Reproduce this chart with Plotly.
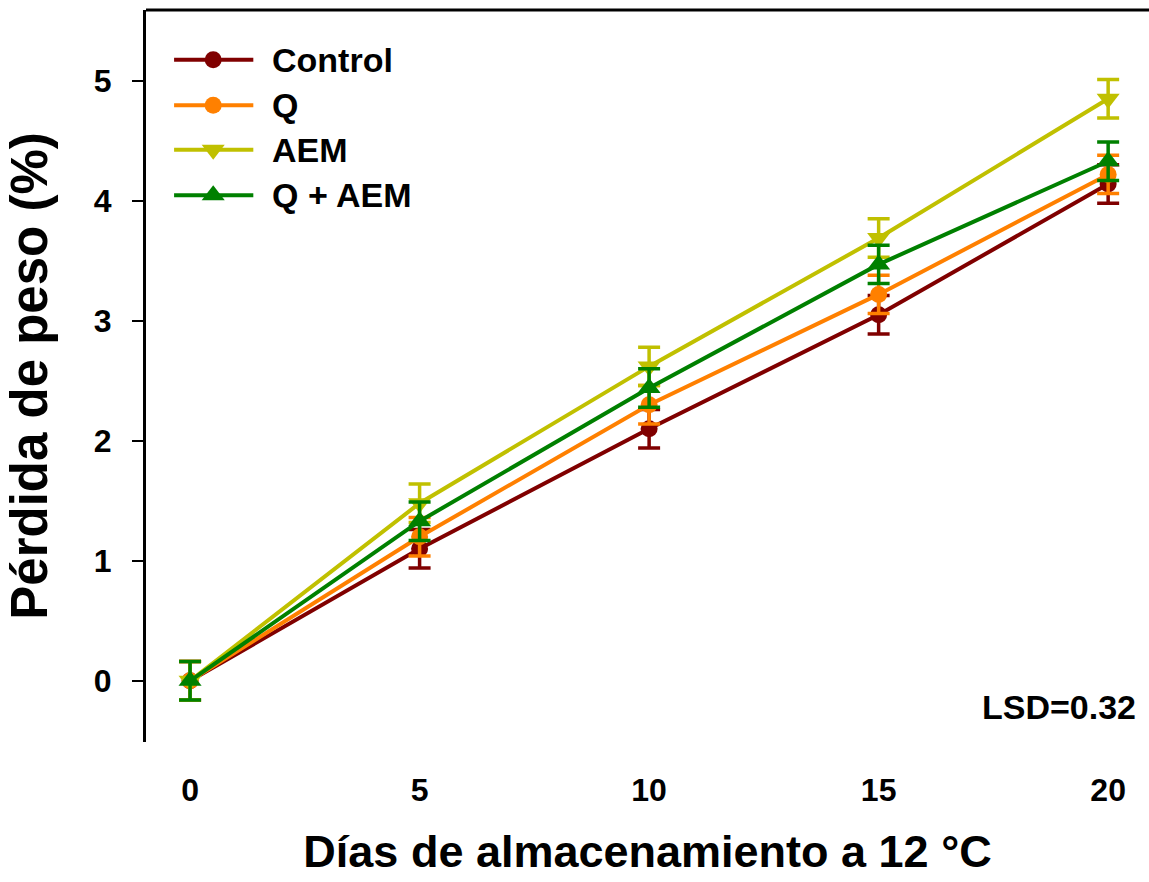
import plotly.graph_objects as go

# Storage days and weight loss (%) per treatment
days = [0, 5, 10, 15, 20]
control = [0.00, 1.10, 2.10, 3.05, 4.14]
q = [0.00, 1.20, 2.30, 3.22, 4.22]
aem = [0.00, 1.48, 2.62, 3.69, 4.85]
q_aem = [0.00, 1.33, 2.44, 3.47, 4.33]
err = [0.16, 0.16, 0.16, 0.16, 0.16]

series_names = ["Control", "Q", "AEM", "Q + AEM"]
series_values = [control, q, aem, q_aem]
colors = ["#800000", "#FF8000", "#C0C000", "#008000"]
symbols = ["circle", "circle", "triangle-down", "triangle-up"]
marker_sizes = [17, 17, 20, 20]

FONT = "Liberation Sans, Arial, sans-serif"

# Legend key geometry, in fractions of the plotting area (overlay axes 0..1)
KEY_LINE_X = [0.028, 0.107]
KEY_MARK_X = 0.067
KEY_TEXT_X = 0.124
KEY_ROWS = [0.932, 0.870, 0.809, 0.747]

fig = go.Figure()
for name, vals, col, sym, ms in zip(series_names, series_values, colors, symbols, marker_sizes):
    fig.add_trace(go.Scatter(
        x=days, y=vals, name=name, mode="lines+markers", showlegend=False,
        line=dict(color=col, width=4),
        marker=dict(symbol=sym, size=ms, color=col),
        error_y=dict(type="data", array=err, visible=True, color=col,
                     thickness=3.5, width=11),
    ))

# legend keys: long line sample with the marker in its middle
for name, col, sym, ms, row in zip(series_names, colors, symbols, marker_sizes, KEY_ROWS):
    fig.add_trace(go.Scatter(
        x=KEY_LINE_X, y=[row, row], xaxis="x2", yaxis="y2", mode="lines",
        showlegend=False, hoverinfo="skip", line=dict(color=col, width=4),
    ))
    fig.add_trace(go.Scatter(
        x=[KEY_MARK_X], y=[row], xaxis="x2", yaxis="y2", mode="markers",
        showlegend=False, hoverinfo="skip",
        marker=dict(symbol=sym, size=ms, color=col),
    ))
    fig.add_annotation(text=name, x=KEY_TEXT_X, y=row, xref="x2", yref="y2",
                       xanchor="left", yanchor="middle", showarrow=False,
                       font=dict(family=FONT, size=34, color="black", weight="bold"))

# frame line along the top of the plotting area
fig.add_shape(type="line", xref="paper", yref="paper", x0=0, x1=1, y0=1, y1=1,
              line=dict(color="black", width=3))

fig.add_annotation(text="LSD=0.32", x=20.64, y=-0.22, xref="x", yref="y",
                   xanchor="right", yanchor="middle", showarrow=False,
                   font=dict(family=FONT, size=34, color="black", weight="bold"))

fig.update_layout(
    width=1149, height=882,
    margin=dict(l=146, r=0, t=10, b=140),
    paper_bgcolor="white", plot_bgcolor="white",
    font=dict(family=FONT, color="black"),
    showlegend=False,
    xaxis=dict(range=[-0.96, 20.89], tickvals=days, ticks="", showline=False,
               showgrid=False, zeroline=False, ticklabelstandoff=26,
               tickfont=dict(family=FONT, size=32, weight="bold"),
               title=dict(text="Días de almacenamiento a 12 °C", standoff=28,
                          font=dict(family=FONT, size=45, weight="bold"))),
    yaxis=dict(range=[-0.51, 5.59], tickvals=[0, 1, 2, 3, 4, 5], ticks="outside",
               ticklen=11, tickwidth=2, tickcolor="black",
               showline=True, linewidth=3, linecolor="black",
               showgrid=False, zeroline=False, ticklabelstandoff=14,
               tickfont=dict(family=FONT, size=32, weight="bold"),
               title=dict(text="Pérdida de peso (%)", standoff=30,
                          font=dict(family=FONT, size=51, weight="bold"))),
    xaxis2=dict(overlaying="x", range=[0, 1], visible=False, fixedrange=True),
    yaxis2=dict(overlaying="y", range=[0, 1], visible=False, fixedrange=True),
)

fig.write_html("out.html")
